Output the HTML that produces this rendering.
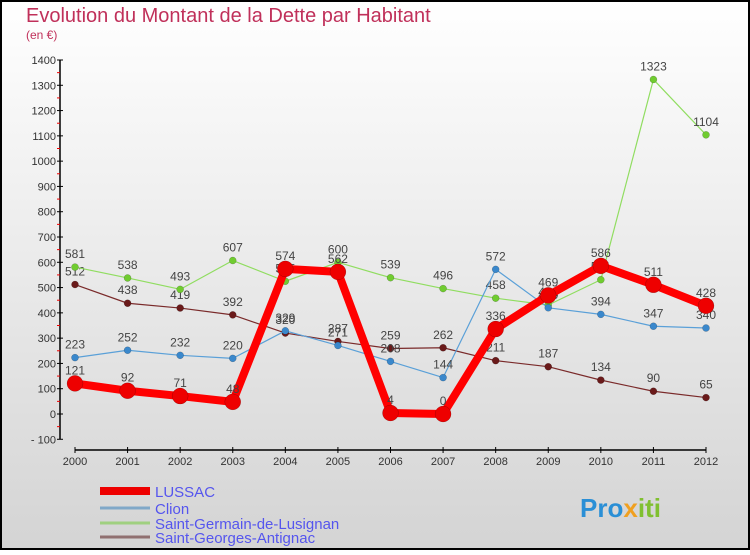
<!DOCTYPE html>
<html><head><meta charset="utf-8"><style>
body{margin:0;width:750px;height:550px;overflow:hidden;font-family:"Liberation Sans",sans-serif}
svg text{font-family:"Liberation Sans",sans-serif}
</style></head><body>
<svg id="c" width="750" height="550">
<defs><linearGradient id="bg" x1="0" y1="0" x2="0" y2="1"><stop offset="0" stop-color="#ffffff"/><stop offset="1" stop-color="#d4d4d4"/></linearGradient></defs>
<rect x="1" y="1" width="748" height="548" fill="url(#bg)" stroke="#000" stroke-width="2"/>
<text x="26" y="22" font-size="20" fill="#c0305a">Evolution du Montant de la Dette par Habitant</text>
<text x="26" y="39" font-size="12" fill="#c0305a">(en €)</text>
<g id="axes"></g><g id="series"></g><g id="legend"></g>
<text x="580" y="517" font-size="26" font-weight="bold" fill="#2a8fd6">Pro<tspan fill="#f0a020">x</tspan><tspan fill="#80c030">iti</tspan></text>
</svg>
<script>
const years=[2000,2001,2002,2003,2004,2005,2006,2007,2008,2009,2010,2011,2012];
const yTicks=[-100,0,100,200,300,400,500,600,700,800,900,1000,1100,1200,1300,1400];
const lussac=[121,92,71,48,574,562,4,0,336,469,586,511,428];
const clion=[223,252,232,220,329,271,208,144,572,420,394,347,340];
const saintGermain=[581,538,493,607,525,600,539,496,458,431,531,1323,1104];
const saintGeorges=[512,438,419,392,320,287,259,262,211,187,134,90,65];
const seriesNames=["LUSSAC","Clion","Saint-Germain-de-Lusignan","Saint-Georges-Antignac"];
const NS="http://www.w3.org/2000/svg";
const X=i=>75+i*(706-75)/12;
const Y=v=>414-v*(414-60)/1400;
function mk(t,a,p,txt){const e=document.createElementNS(NS,t);for(const k in a)e.setAttribute(k,a[k]);if(txt!==undefined)e.textContent=txt;p.appendChild(e);return e;}
const ax=document.getElementById('axes');
let e=mk('line',{x1:60,y1:Y(1400),x2:60,y2:Y(-100),stroke:'#000','stroke-width':1.5},ax);

e=mk('line',{x1:75,y1:450,x2:706,y2:450,stroke:'#000','stroke-width':1.5},ax);

yTicks.forEach(v=>{
 mk('line',{x1:57,x2:63,y1:Y(v),y2:Y(v),stroke:'#000'},ax);
 if(v<1400)mk('line',{x1:57,x2:60,y1:Y(v+50),y2:Y(v+50),stroke:'#e00'},ax);
 e=mk('text',{x:56,y:Y(v)+4,'font-size':11,'text-anchor':'end',fill:'#333'},ax,v<0?'- '+(-v):String(v));
 
});
years.forEach((y,i)=>{
 mk('line',{x1:X(i),x2:X(i),y1:447,y2:453,stroke:'#000'},ax);
 e=mk('text',{x:X(i),y:465,'font-size':11,'text-anchor':'middle',fill:'#333'},ax,String(y));
 
});
const sg=document.getElementById('series');
const defs=[[saintGeorges,'#7a2a2a','#6a1a1a',1.2,3.5,'series-saint-georges'],[saintGermain,'#90dd60','#70cc30',1.2,3.5,'series-saint-germain'],[clion,'#5aa0d8','#3a88cc',1.2,3.5,'series-clion'],[lussac,'#ff0000','#ee0000',8,8,'series-lussac']];
defs.forEach(([d,lc,pc,w,r,n])=>{
 const g=mk('g',{},sg);
 
 mk('polyline',{points:d.map((v,i)=>X(i)+','+Y(v)).join(' '),fill:'none',stroke:lc,'stroke-width':w,'stroke-linejoin':'round'},g);
 d.forEach((v,i)=>{
  const c=mk('circle',{cx:X(i),cy:Y(v),r:r,fill:pc,stroke:'rgba(0,0,0,0.3)','stroke-width':0.5},g);
  
  const t=mk('text',{x:X(i),y:Y(v)-9,'font-size':12,'text-anchor':'middle',fill:'#444'},g,String(v));
  
 });
});
const lg=document.getElementById('legend');
const lcol=['#ee0000','#80a8c8','#a0d080','#907070'],lw=[8,3,3,3],ly=[491,508,523,537];
seriesNames.forEach((s,i)=>{
 const g=mk('g',{},lg);
 
 mk('line',{x1:100,x2:150,y1:ly[i],y2:ly[i],stroke:lcol[i],'stroke-width':lw[i]},g);
 mk('text',{x:155,y:ly[i]+6,'font-size':15,fill:'#5555ee'},g,s);
});
</script>
</body></html>
